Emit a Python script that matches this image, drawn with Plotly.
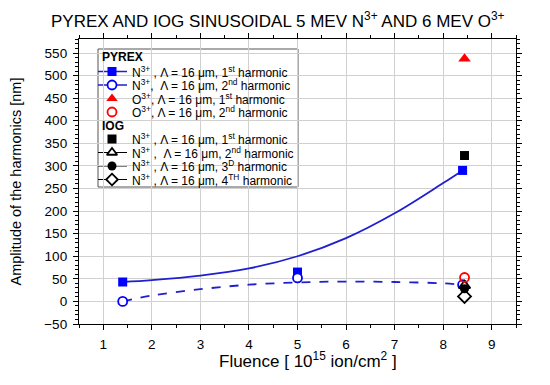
import plotly.graph_objects as go

# ---------------- data ----------------
pyrex_n_fluence = [1.4, 5.0, 8.4]
pyrex_n_h1 = [43, 65, 290]
pyrex_n_h2 = [0, 52, 37]

pyrex_o_fluence = [8.44]
pyrex_o_h1 = [537]
pyrex_o_h2 = [53]

iog_fluence = [8.44]
iog_h1 = [323]
iog_h2 = [35]
iog_h3 = [28]
iog_h4 = [11]

# fitted curves
fit_x = [1.4, 2, 3, 4, 5, 6, 7, 8, 8.4]
fit_h1 = [43, 47, 57, 73, 100, 140, 195, 262, 290]
fit_h2 = [0, 13, 27, 37, 42, 44, 43, 40, 37]

x_ticks = [1, 2, 3, 4, 5, 6, 7, 8, 9]
y_ticks = [-50, 0, 50, 100, 150, 200, 250, 300, 350, 400, 450, 500, 550]

FONT = "Liberation Sans, Arial, sans-serif"
BLUE = "#0000ff"
LBLUE = "#1f1fd0"

fig = go.Figure()

# fit lines
fig.add_trace(go.Scatter(x=fit_x, y=fit_h1, mode="lines",
                         line=dict(color=LBLUE, width=1.8, shape="spline"),
                         showlegend=False, hoverinfo="skip"))
fig.add_trace(go.Scatter(x=fit_x, y=fit_h2, mode="lines",
                         line=dict(color=LBLUE, width=1.8, dash="dash", shape="spline"),
                         showlegend=False, hoverinfo="skip"))

# PYREX data
fig.add_trace(go.Scatter(x=pyrex_n_fluence, y=pyrex_n_h1, mode="markers",
                         marker=dict(symbol="square", size=9, color=BLUE),
                         showlegend=False))
fig.add_trace(go.Scatter(x=pyrex_n_fluence, y=pyrex_n_h2, mode="markers",
                         marker=dict(symbol="circle", size=9, color="white",
                                     line=dict(color=BLUE, width=1.8)),
                         showlegend=False))
# IOG data
fig.add_trace(go.Scatter(x=iog_fluence, y=iog_h1, mode="markers",
                         marker=dict(symbol="square", size=9, color="black"),
                         showlegend=False))
fig.add_trace(go.Scatter(x=iog_fluence, y=iog_h2, mode="markers",
                         marker=dict(symbol="triangle-up", size=10, color="white",
                                     line=dict(color="black", width=1.8)),
                         showlegend=False))
fig.add_trace(go.Scatter(x=iog_fluence, y=iog_h4, mode="markers",
                         marker=dict(symbol="diamond", size=10, color="white",
                                     line=dict(color="black", width=1.8)),
                         showlegend=False))
fig.add_trace(go.Scatter(x=iog_fluence, y=iog_h3, mode="markers",
                         marker=dict(symbol="circle", size=9, color="black"),
                         showlegend=False))
# PYREX O3+
fig.add_trace(go.Scatter(x=pyrex_o_fluence, y=pyrex_o_h2, mode="markers",
                         marker=dict(symbol="circle", size=9, color="rgba(0,0,0,0)",
                                     line=dict(color="red", width=1.8)),
                         showlegend=False))
fig.add_trace(go.Scatter(x=pyrex_o_fluence, y=pyrex_o_h1, mode="markers",
                         marker=dict(symbol="triangle-up", size=11, color="red"),
                         showlegend=False))

# ---------------- hand-made legend (pixel overlay axes) ----------------
# screen pixel edges of the plot area (page body adds an 8 px offset)
OFF = 8
W, H = 550 - OFF, 385 - OFF
L, R, T, B = 79, 516, 39, 324
box_x0, box_x1, box_y0, box_y1 = 98, 298, 49, 187
seg_x0, seg_x1, mark_x, text_x = 98, 127, 112, 130

legend_rows = [
    ("PYREX", None, None, None, 57),
    ("N<sup>3+</sup> , Λ = 16 μm, 1<sup>st</sup> harmonic", "square", BLUE, LBLUE, 71.5),
    ("N<sup>3+</sup>,  Λ = 16 μm, 2<sup>nd</sup> harmonic", "circle", "white|" + BLUE, LBLUE, 85),
    ("O<sup>3+</sup>, Λ = 16 μm, 1<sup>st</sup> harmonic", "triangle-up", "red", None, 98.5),
    ("O<sup>3+</sup>, Λ = 16 μm, 2<sup>nd</sup> harmonic", "circle", "white|red", None, 112),
    ("IOG", None, None, None, 125.5),
    ("N<sup>3+</sup> , Λ = 16 μm, 1<sup>st</sup> harmonic", "square", "black", None, 139),
    ("N<sup>3+</sup> ,  Λ = 16 μm, 2<sup>nd</sup> harmonic", "triangle-up", "white|black", "black", 152.5),
    ("N<sup>3+</sup> , Λ = 16 μm, 3<sup>D</sup> harmonic", "circle", "black", "black", 166),
    ("N<sup>3+</sup> , Λ = 16 μm, 4<sup>TH</sup> harmonic", "diamond", "white|black", "black", 179.5),
]

shapes = [dict(type="rect", xref="x2", yref="y2", x0=box_x0, x1=box_x1,
               y0=box_y0, y1=box_y1, fillcolor="white",
               line=dict(color="#555555", width=1), layer="below")]
annotations = []
for text, sym, col, lcol, yy in legend_rows:
    if sym is None:
        annotations.append(dict(x=100, y=yy, xref="x2", yref="y2", text="<b>%s</b>" % text,
                                showarrow=False, xanchor="left", yanchor="middle",
                                font=dict(family=FONT, size=12, color="black")))
        continue
    annotations.append(dict(x=text_x, y=yy, xref="x2", yref="y2", text=text,
                            showarrow=False, xanchor="left", yanchor="middle",
                            font=dict(family=FONT, size=12, color="black")))
    if lcol is not None:
        shapes.append(dict(type="line", xref="x2", yref="y2", x0=seg_x0, x1=seg_x1,
                           y0=yy, y1=yy, line=dict(color=lcol, width=1.5 if lcol != "black" else 1),
                           layer="below"))
    if "|" in col:
        fill, edge = col.split("|")
        mk = dict(symbol=sym, size=9, color=fill, line=dict(color=edge, width=1.8))
    else:
        mk = dict(symbol=sym, size=9 if sym != "triangle-up" else 10, color=col)
    fig.add_trace(go.Scatter(x=[mark_x], y=[yy], xaxis="x2", yaxis="y2", mode="markers",
                             marker=mk, showlegend=False, hoverinfo="skip"))

annotations.append(dict(x=0.5, y=1, xref="paper", yref="paper",
                        text="PYREX AND IOG SINUSOIDAL 5 MEV N<sup>3+</sup> AND 6 MEV O<sup>3+</sup>",
                        showarrow=False, xanchor="center", yanchor="bottom", yshift=6, xshift=-20,
                        font=dict(family=FONT, size=17, color="black")))
annotations.append(dict(x=0.5, y=0, xref="paper", yref="paper",
                        text="Fluence [ 10<sup>15</sup> ion/cm<sup>2</sup> ]",
                        showarrow=False, xanchor="center", yanchor="middle", yshift=-36, xshift=10,
                        font=dict(family=FONT, size=17, color="black")))

axis_common = dict(showline=True, linecolor="black", linewidth=1.3, mirror="ticks",
                   ticks="outside", ticklen=5, tickwidth=1.2, tickcolor="black",
                   showgrid=True, gridcolor="#d0d0d0", gridwidth=1, zeroline=False,
                   automargin=False, ticklabelstandoff=3,
                   tickfont=dict(family=FONT, size=13.5, color="black"))

fig.update_layout(
    width=W, height=H,
    margin=dict(l=L - OFF, r=W - (R - OFF), t=T - OFF, b=H - (B - OFF), autoexpand=False),
    paper_bgcolor="white", plot_bgcolor="white",
    showlegend=False,
    xaxis=dict(range=[0.5, 9.5], tickvals=x_ticks,
               minor=dict(dtick=0.5, ticks="outside", ticklen=3, tickcolor="black", showgrid=False),
               **axis_common),
    yaxis=dict(range=[-50, 581], tickvals=y_ticks,
               minor=dict(dtick=10, ticks="outside", ticklen=3, tickcolor="black", showgrid=False),
               title=dict(text="Amplitude of the harmonics [nm]", standoff=20,
                          font=dict(family=FONT, size=14.5, color="black")),
               **axis_common),
    xaxis2=dict(range=[L, R], overlaying="x", visible=False, fixedrange=True, automargin=False),
    yaxis2=dict(range=[B, T], overlaying="y", visible=False, fixedrange=True, automargin=False),
    shapes=shapes,
    annotations=annotations,
)

fig.write_html("out.html")
